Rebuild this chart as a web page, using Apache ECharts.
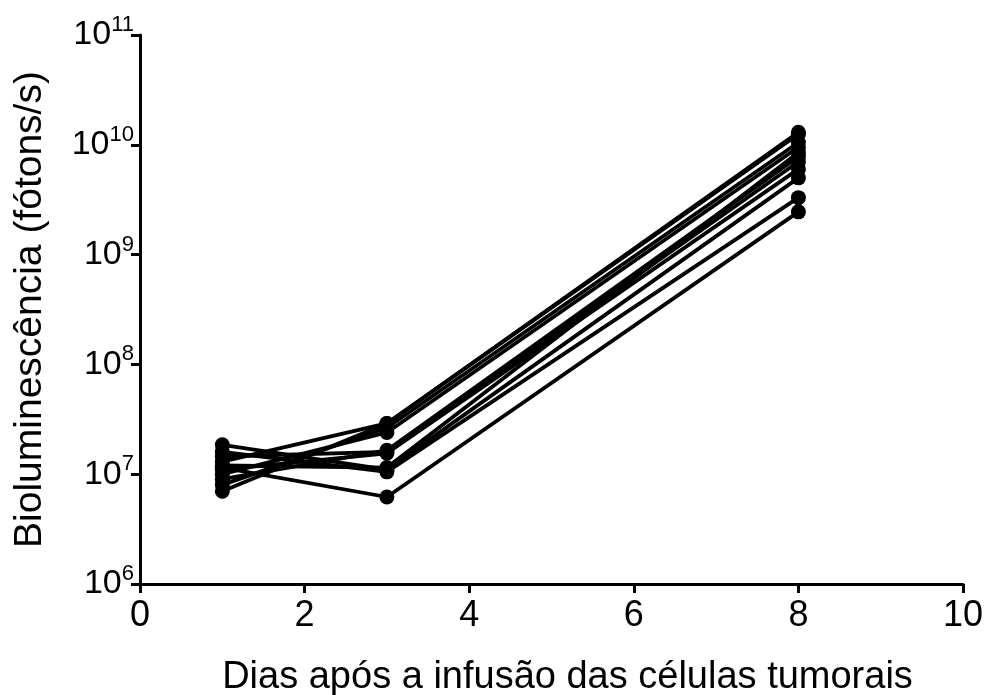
<!DOCTYPE html>
<html>
<head>
<meta charset="utf-8">
<script src="https://cdn.jsdelivr.net/npm/echarts@6/dist/echarts.min.js"></script>
<style>
  html, body { margin: 0; padding: 0; background: #fff; }
  #chart { width: 984px; height: 695px; }
</style>
</head>
<body>
<div id="chart"></div>
<script>
// dias avaliados
const days = [1, 3, 8];
// bioluminescência por animal (fótons/s) nos dias 1, 3 e 8
const day1 = [1.85e7, 1.6e7, 1.45e7, 1.3e7, 1.2e7, 1.15e7, 1.1e7, 1.0e7, 9e6, 8e6, 7e6];
const day3 = [1.1e7, 1.05e7, 1.6e7, 2.9e7, 1.15e7, 6.2e6, 1.55e7, 2.4e7, 1.65e7, 2.65e7, 2.9e7];
const day8 = [5.0e9, 3.3e9, 7.0e9, 1.3e10, 8.5e9, 2.45e9, 6.0e9, 9.5e9, 7.8e9, 1.05e10, 1.25e10];
const xTicks = [0, 2, 4, 6, 8, 10];

const font = "Liberation Sans";
const chart = echarts.init(document.getElementById("chart"));

const series = day1.map((v, i) => ({
  type: "line",
  data: [[days[0], v], [days[1], day3[i]], [days[2], day8[i]]],
  symbol: "circle",
  symbolSize: 15,
  lineStyle: { color: "#000", width: 3.8 },
  itemStyle: { color: "#000" },
  animation: false,
}));

chart.setOption({
  backgroundColor: "#fff",
  textStyle: { fontFamily: font },
  grid: { left: 140, right: 21, top: 35, bottom: 111, containLabel: false, outerBoundsMode: "none" },
  xAxis: {
    type: "value",
    min: 0,
    max: 10,
    interval: 2,
    name: "Dias após a infusão das células tumorais",
    nameLocation: "middle",
    nameGap: 75,
    nameTextStyle: { fontSize: 38, color: "#000", fontFamily: font, padding: [0, 0, 0, 32] },
    axisLine: { lineStyle: { color: "#000", width: 3 } },
    axisTick: { show: true, length: 9, lineStyle: { color: "#000", width: 3 } },
    axisLabel: {
      fontSize: 36, color: "#000", margin: 14, fontFamily: font,
      formatter: (v) => (xTicks.includes(v) ? String(v) : ""),
    },
    splitLine: { show: false },
  },
  yAxis: {
    type: "log",
    logBase: 10,
    min: 1e6,
    max: 1e11,
    name: "Bioluminescência (fótons/s)",
    nameLocation: "middle",
    nameGap: 90,
    nameTextStyle: { fontSize: 39, color: "#000", fontFamily: font },
    axisLine: { lineStyle: { color: "#000", width: 3 } },
    axisTick: { show: true, length: 9, lineStyle: { color: "#000", width: 3 } },
    minorTick: { show: false },
    axisLabel: {
      margin: 6,
      formatter: (v) => "{b|10}{s|" + Math.round(Math.log10(v)) + "}",
      rich: {
        b: { fontSize: 34, color: "#000", fontFamily: font },
        s: { fontSize: 22, color: "#000", fontFamily: font, padding: [0, 0, 20, 0] },
      },
    },
    splitLine: { show: false },
  },
  series,
});
</script>
</body>
</html>
